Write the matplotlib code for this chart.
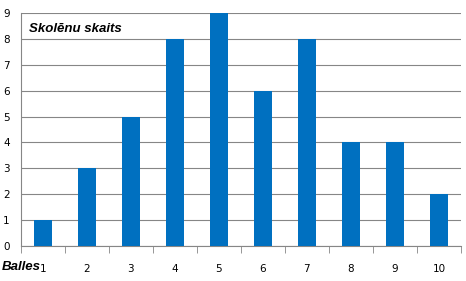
import matplotlib
matplotlib.use("Agg")
import matplotlib.pyplot as plt
import numpy as np

categories = ["1", "2", "3", "4", "5", "6", "7", "8", "9", "10"]
values = [1, 3, 5, 8, 9, 6, 8, 4, 4, 2]
yticks = list(range(0, 10))

fig = plt.figure(figsize=(4.66, 2.81), dpi=100)
ax = fig.add_axes([0.045, 0.1246, 0.944, 0.829])
x = np.arange(len(categories))
ax.bar(x, values, width=0.41, color="#0070C0", zorder=3)
ax.set_xlim(-0.5, len(categories) - 0.5)
ax.set_ylim(0, 9)
ax.set_yticks(yticks)
ax.set_yticklabels([str(t) for t in yticks], fontsize=7.5)
ax.yaxis.grid(True, color="#868686", linewidth=0.8, zorder=0)
ax.tick_params(axis="y", length=0, pad=8)
ax.set_xticks(x)
ax.set_xticklabels(categories, fontsize=7.5)
ax.set_xticks(np.arange(-0.5, len(categories), 1), minor=True)
ax.tick_params(axis="x", which="major", length=0, pad=13)
ax.tick_params(axis="x", which="minor", length=5, color="#868686", direction="out")
for s in ["top", "right"]:
    ax.spines[s].set_visible(False)
ax.spines["left"].set_color("#868686")
ax.spines["bottom"].set_color("#868686")
ax.text(0.018, 0.93, "Skolēnu skaits", transform=ax.transAxes, fontsize=9.5,
        fontweight="bold", fontstyle="italic", va="center", ha="left",
        family="Liberation Sans")
fig.text(0.004, 0.05, "Balles", fontsize=9.5, fontweight="bold", fontstyle="italic",
         va="center", ha="left", family="Liberation Sans")
fig.savefig("out.png", dpi=100)
